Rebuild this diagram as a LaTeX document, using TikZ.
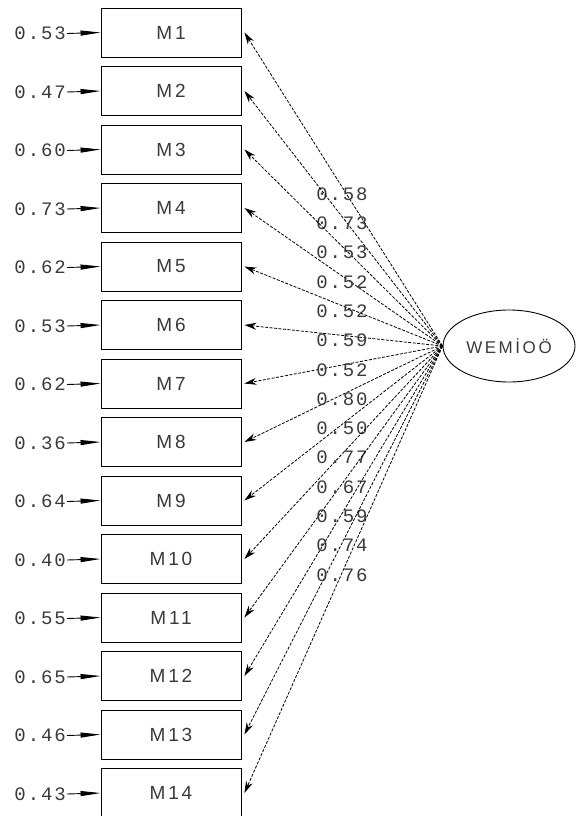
\documentclass[tikz,border=0pt]{standalone}
\usepackage{fontspec}
\setmainfont{Liberation Sans}
\newfontfamily\monof[LetterSpace=10]{Liberation Mono}
\newfontfamily\boxf[LetterSpace=15]{Liberation Sans}
\usetikzlibrary{shapes.geometric,arrows.meta}
\definecolor{txt}{HTML}{3A3A3A}
\tikzset{
  obs/.style={draw,line width=0.9pt,minimum width=140pt,minimum height=49pt,inner sep=0pt,font=\boxf\fontsize{19}{19}\selectfont,text=txt},
  lat/.style={draw,ellipse,line width=0.9pt,minimum width=132pt,minimum height=72pt,inner sep=0pt,font=\boxf\fontsize{17}{17}\selectfont,text=txt},
  errlab/.style={font=\monof\fontsize{19}{19}\selectfont,text=txt,inner sep=0pt,anchor=east},
  loadlab/.style={font=\monof\fontsize{19}{19}\selectfont,text=txt,inner sep=0pt},
  errarr/.style={line width=0.9pt,-{Triangle[length=20pt,width=5pt]}},
  loadarr/.style={line width=0.8pt,dash pattern=on 3pt off 1.5pt,-{Stealth[length=12pt,width=7pt]}},
}
\begin{document}
\begin{tikzpicture}[x=1pt,y=-1pt]
\useasboundingbox (0,0) rectangle (577,816);
\node[lat] (L) at (509,346) {WEM\.IOÖ};
\foreach \i/\e/\l in {1/0.53/0.58,2/0.47/0.73,3/0.60/0.53,4/0.73/0.52,5/0.62/0.52,6/0.53/0.59,7/0.62/0.52,8/0.36/0.80,9/0.64/0.50,10/0.40/0.77,11/0.55/0.67,12/0.65/0.59,13/0.46/0.74,14/0.43/0.76}{
  \node[obs] (M\i) at (171,{32.5+(\i-1)*58.5}) {M\i};
  \node[errlab] (e\i) at (66,{33.5+(\i-1)*58.5}) {\e};
  \draw[errarr] (e\i.east) ++(1pt,0) coordinate (s\i) -- (M\i.west);
  \coordinate (t\i) at ([xshift=3pt]M\i.east);
  \draw[loadarr] (L.west) -- (t\i);
  \node[loadlab] (w\i) at (342,{194+(\i-1)*29.3}) {\l};
}
\end{tikzpicture}
\end{document}
